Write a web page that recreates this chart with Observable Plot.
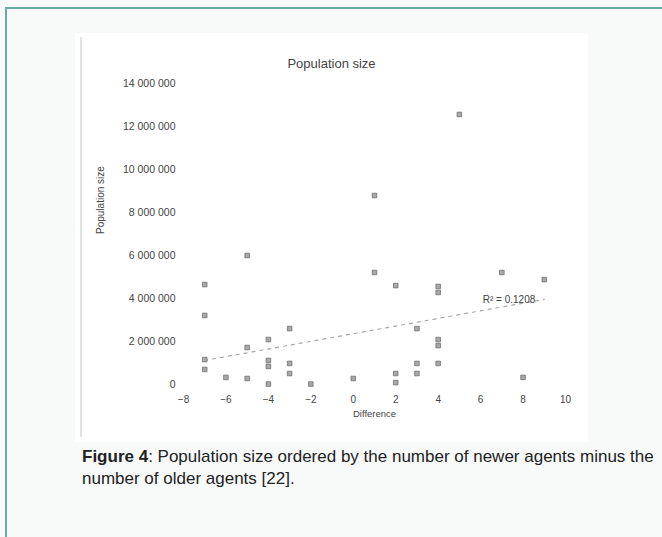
<!DOCTYPE html>
<html><head><meta charset="utf-8">
<script src="https://cdn.jsdelivr.net/npm/d3@7"></script>
<script src="https://cdn.jsdelivr.net/npm/@observablehq/plot@0.6"></script>
<style>
html,body{margin:0;padding:0;background:#f8fafa;}
body{width:662px;height:537px;overflow:hidden;position:relative;font-family:"Liberation Sans",Arial,sans-serif;}
#frame{position:absolute;left:5px;top:7px;width:720px;height:620px;border-top:2px solid #68aca4;border-left:2px solid #68aca4;}
#box{position:absolute;left:75px;top:33px;width:513px;height:409px;background:#fff;}
#rule{position:absolute;left:80px;top:37px;width:2px;height:400px;background:#e2e2e2;}
#chart{position:absolute;left:83px;top:33px;}
#caption{position:absolute;left:82px;top:446px;font-size:17px;line-height:22px;color:#222;white-space:nowrap;}
</style></head>
<body>
<div id="frame"></div>
<div id="box"></div>
<div id="rule"></div>
<div id="chart"></div>
<div id="caption"><b>Figure 4</b>: Population size ordered by the number of newer agents minus the<br>number of older agents [22].</div>
<script>
// Data
const diffs = [-7,-7,-7,-7, -6, -5,-5,-5, -4,-4,-4,-4, -3,-3,-3, -2, 0, 1,1, 2,2,2, 3,3,3, 4,4,4,4,4, 5, 7, 8, 9];
const popSizes = [4650000,3210000,1160000,700000, 330000, 6000000,1720000,280000, 2090000,1120000,840000,20000, 2600000,980000,510000, 20000, 280000, 8790000,5210000, 4600000,510000,90000, 2600000,980000,510000, 4560000,4280000,2090000,1810000,980000, 12560000, 5210000, 330000, 4880000];
const trendX = [-7, 9];
const trendY = [1120000, 3960000];
const rLabel = "R² = 0.1208";
const xTicks = [-8,-6,-4,-2,0,2,4,6,8,10];
const yTicks = [0,2000000,4000000,6000000,8000000,10000000,12000000,14000000];
const chartTitle = "Population size";
const xTitle = "Difference";
const yTitle = "Population size";

const points = diffs.map((x, i) => ({x, y: popSizes[i]}));
const trend = trendX.map((x, i) => ({x, y: trendY[i]}));
const fmt = d => d3.format(",")(d).replace(/,/g, " ");

const chart = Plot.plot({
  width: 505, height: 409,
  marginLeft: 100, marginRight: 23, marginTop: 50, marginBottom: 58,
  style: {fontFamily: "Liberation Sans, Arial, sans-serif", fontSize: "10px", color: "#444", background: "transparent", overflow: "visible"},
  x: {domain: [-8, 10]},
  y: {domain: [0, 14000000]},
  marks: [
    Plot.axisX({ticks: xTicks, tickSize: 0, tickPadding: 11, label: null, tickFormat: d => String(d).replace("-", "\u2212")}),
    Plot.axisY({ticks: yTicks, tickSize: 0, tickPadding: 8, label: null, tickFormat: fmt, fontSize: 10.5}),
    Plot.line(trend, {x: "x", y: "y", stroke: "#a8a8a8", strokeDasharray: "3,5", strokeWidth: 1.2}),
    Plot.dot(points, {x: "x", y: "y", symbol: "square", r: 2.6, fill: "#a8a8a8", stroke: "#666", strokeWidth: 0.7}),
    Plot.text([{x: trendX[1], y: trendY[1], t: rLabel}], {x: "x", y: "y", text: "t", textAnchor: "end", dx: -9, fontSize: 10}),
    Plot.text([chartTitle], {frameAnchor: "top", dx: -43, dy: -25, fontSize: 13}),
    Plot.text([xTitle], {frameAnchor: "bottom", dy: 32, fontSize: 9.5}),
    Plot.text([yTitle], {frameAnchor: "left", dx: -83, rotate: -90, fontSize: 10})
  ]
});
document.getElementById("chart").appendChild(chart);
</script>
</body></html>
